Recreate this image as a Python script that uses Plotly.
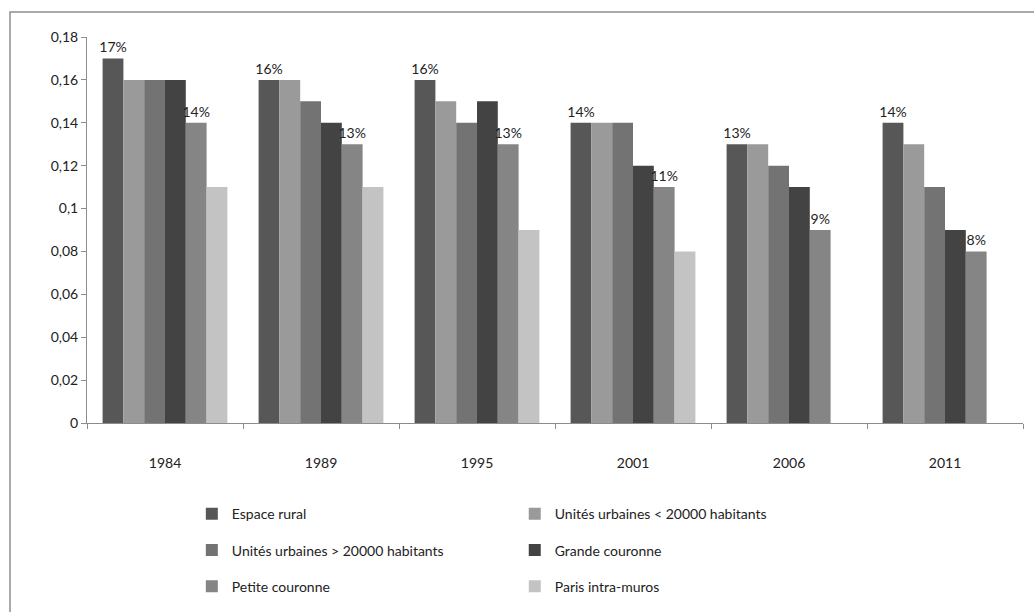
import plotly.graph_objects as go

years = ["1984", "1989", "1995", "2001", "2006", "2011"]
series_names = [
    "Espace rural",
    "Unités urbaines < 20000 habitants",
    "Unités urbaines > 20000 habitants",
    "Grande couronne",
    "Petite couronne",
    "Paris intra-muros",
]
espace_rural = [0.17, 0.16, 0.16, 0.14, 0.13, 0.14]
uu_moins_20000 = [0.16, 0.16, 0.15, 0.14, 0.13, 0.13]
uu_plus_20000 = [0.16, 0.15, 0.14, 0.14, 0.12, 0.11]
grande_couronne = [0.16, 0.14, 0.15, 0.12, 0.11, 0.09]
petite_couronne = [0.14, 0.13, 0.13, 0.11, 0.09, 0.08]
paris = [0.11, 0.11, 0.09, 0.08, None, None]

y_tickvals = [0, 0.02, 0.04, 0.06, 0.08, 0.1, 0.12, 0.14, 0.16, 0.18]
y_ticktext = ["0", "0,02", "0,04", "0,06", "0,08", "0,1", "0,12", "0,14", "0,16", "0,18"]

values = [espace_rural, uu_moins_20000, uu_plus_20000, grande_couronne, petite_couronne, paris]
colors = ["#575757", "#9a9a9a", "#737373", "#434343", "#858585", "#c3c3c3"]
labelled = [True, False, False, False, True, False]
legend_ids = ["legend", "legend2", "legend", "legend2", "legend", "legend2"]

FONT = "Lato, 'Open Sans', sans-serif"
TXT = dict(size=14, color="#222222", family=FONT)

fig = go.Figure()
for name, vals, col, lab, lg in zip(series_names, values, colors, labelled, legend_ids):
    fig.add_trace(go.Bar(
        x=years, y=vals, name=name, marker=dict(color=col, line=dict(width=0)),
        texttemplate="%{y:.0%}" if lab else None,
        textposition="outside" if lab else "none",
        textfont=TXT, outsidetextfont=TXT,
        constraintext="none",
        cliponaxis=False,
        legend=lg, legendgroup=name,
    ))

legend_common = dict(yanchor="top", xanchor="left", orientation="v",
                     tracegroupgap=15, traceorder="grouped",
                     font=dict(size=14, family=FONT, color="#222222"),
                     bgcolor="rgba(0,0,0,0)")

fig.update_layout(
    width=1034, height=612,
    margin=dict(l=87, r=11, t=37, b=189, autoexpand=False),
    paper_bgcolor="white", plot_bgcolor="white",
    barmode="group", bargap=0.2, bargroupgap=0,
    separators=", ",
    font=dict(family=FONT, size=14, color="#222222"),
    showlegend=True,
    legend=dict(x=0.112, y=-0.195, **legend_common),
    legend2=dict(x=0.457, y=-0.195, **legend_common),
    xaxis=dict(type="category", showline=True, linecolor="#8c8c8c", linewidth=1,
               ticks="outside", ticklen=5, tickcolor="#8c8c8c", tickson="boundaries",
               ticklabelstandoff=27, tickfont=dict(size=14, color="#222222"),
               showgrid=False),
    yaxis=dict(range=[0, 0.18], tickvals=y_tickvals, ticktext=y_ticktext,
               showline=True, linecolor="#8c8c8c", linewidth=1,
               ticks="outside", ticklen=5, tickcolor="#8c8c8c",
               tickfont=dict(size=14, color="#222222"), showgrid=False, zeroline=False),
    shapes=[dict(type="rect", xref="paper", yref="paper",
                 x0=(10 - 87) / 936, x1=1.05, y0=-0.6, y1=(423 - 12) / 386,
                 line=dict(color="#8f8f8f", width=1.5), fillcolor="rgba(0,0,0,0)",
                 layer="below")],
)

fig.write_html("out.html")
